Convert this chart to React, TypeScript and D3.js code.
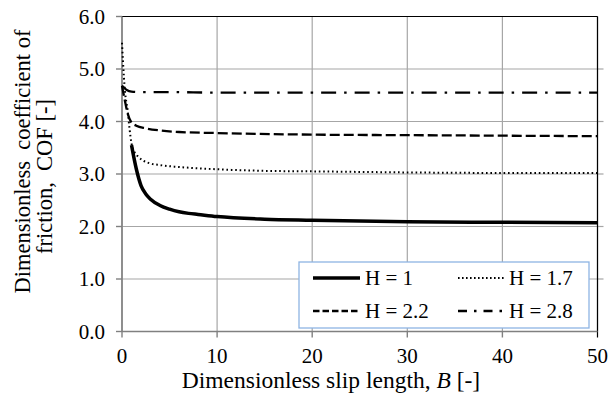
import React from "react";
import * as d3 from "d3";

const xTicks = [0, 10, 20, 30, 40, 50];
const yTicks = [0, 1, 2, 3, 4, 5, 6];

const bH1 = [1, 1.5, 2, 2.5, 3, 4, 5, 6, 7, 8, 10, 15, 20, 30, 40, 50];
const cofH1 = [3.55, 3.1, 2.78, 2.62, 2.52, 2.4, 2.33, 2.28, 2.25, 2.23, 2.19, 2.14, 2.12, 2.09, 2.08, 2.07];

const bH17 = [0, 0.1, 0.3, 0.6, 0.8, 1, 1.3, 1.7, 2.2, 3, 4, 5.5, 7, 10, 15, 20, 30, 40, 50];
const cofH17 = [5.5, 5.15, 4.6, 4.2, 3.85, 3.58, 3.42, 3.33, 3.26, 3.2, 3.17, 3.14, 3.12, 3.09, 3.06, 3.05, 3.03, 3.02, 3.02];

const bH22 = [0, 0.3, 0.6, 1, 1.5, 2.5, 4, 6, 10, 20, 30, 40, 50];
const cofH22 = [4.68, 4.4, 4.15, 3.98, 3.92, 3.87, 3.83, 3.8, 3.78, 3.75, 3.74, 3.73, 3.72];

const bH28 = [0, 0.5, 1, 2, 5, 10, 20, 30, 40, 50];
const cofH28 = [4.68, 4.6, 4.57, 4.56, 4.56, 4.55, 4.55, 4.55, 4.55, 4.55];

const seriesLabels = ["H = 1", "H = 1.7", "H = 2.2", "H = 2.8"];

const FONT = "'Liberation Serif', 'Times New Roman', serif";

export default function App() {
  const x = d3.scaleLinear().domain([0, 50]).range([122, 597.5]);
  const y = d3.scaleLinear().domain([0, 6]).range([331.5, 16.5]);

  const line = d3
    .line<[number, number]>()
    .x((d) => x(d[0]))
    .y((d) => y(d[1]))
    .curve(d3.curveMonotoneX);

  const zip = (a: number[], b: number[]) => a.map((v, i) => [v, b[i]] as [number, number]);

  const styles = [
    { w: 3.5, dash: undefined as string | undefined, cap: "butt", legDash: undefined as string | undefined },
    { w: 2, dash: "1.6 2.8", cap: "butt", legDash: "1.6 2.4" },
    { w: 2.3, dash: "10 4", cap: "butt", legDash: "6.5 3" },
    { w: 2.3, dash: "15 8 2.5 8", cap: "butt", legDash: "9 7 2.5 7" },
  ];

  const series = [
    zip(bH1, cofH1),
    zip(bH17, cofH17),
    zip(bH22, cofH22),
    zip(bH28, cofH28),
  ];

  const [x0, x1] = x.range();
  const [yb, yt] = y.range();

  const legendItems = [
    { i: 0, sx: 313, tx: 365, ty: 278 },
    { i: 1, sx: 458, tx: 509, ty: 278 },
    { i: 2, sx: 313, tx: 365, ty: 311 },
    { i: 3, sx: 458, tx: 509, ty: 311 },
  ];

  return (
    <svg
      width={610}
      height={396}
      style={{ position: "absolute", left: 0, top: 0, background: "#fff" }}
      fontFamily={FONT}
    >
      <rect x={0} y={0} width={610} height={396} fill="#fff" />
      {/* gridlines */}
      {yTicks.map((t) => (
        <line key={"gy" + t} x1={x0} x2={x1} y1={y(t)} y2={y(t)} stroke="#a6a6a6" strokeWidth={1.2} />
      ))}
      {xTicks.map((t) => (
        <line key={"gx" + t} x1={x(t)} x2={x(t)} y1={yt} y2={yb} stroke="#a6a6a6" strokeWidth={1.2} />
      ))}
      {/* right ticks */}
      {yTicks.filter((t) => t > 0 && t < 6).map((t) => (
        <line key={"ry" + t} x1={x1} x2={x1 + 6} y1={y(t)} y2={y(t)} stroke="#a6a6a6" strokeWidth={1.2} />
      ))}
      {/* top and right border */}
      <line x1={x0} x2={x1} y1={yt} y2={yt} stroke="#000" strokeWidth={1.2} />
      <line x1={x1} x2={x1} y1={yt} y2={yb + 6} stroke="#000" strokeWidth={1.2} />
      {/* axes */}
      <line x1={x0} x2={x0} y1={yt} y2={yb} stroke="#808080" strokeWidth={1.6} />
      <line x1={x0} x2={x1} y1={yb} y2={yb} stroke="#808080" strokeWidth={1.6} />
      {yTicks.map((t) => (
        <line key={"ty" + t} x1={x0 - 6} x2={x0} y1={y(t)} y2={y(t)} stroke="#808080" strokeWidth={1.4} />
      ))}
      {xTicks.slice(0, -1).map((t) => (
        <line key={"tx" + t} x1={x(t)} x2={x(t)} y1={yb} y2={yb + 6} stroke="#808080" strokeWidth={1.4} />
      ))}
      {/* tick labels */}
      {yTicks.map((t) => (
        <text key={"ly" + t} x={105} y={y(t) + 7} textAnchor="end" fontSize={21} fill="#000">
          {t.toFixed(1)}
        </text>
      ))}
      {xTicks.map((t) => (
        <text key={"lx" + t} x={x(t)} y={363} textAnchor="middle" fontSize={21} fill="#000">
          {t}
        </text>
      ))}
      {/* series */}
      {series.map((s, i) => (
        <path
          key={"s" + i}
          d={line(s) || ""}
          fill="none"
          stroke="#000"
          strokeWidth={styles[i].w}
          strokeDasharray={styles[i].dash}
          strokeLinecap={styles[i].cap as any}
        />
      ))}
      {/* legend */}
      <rect x={299} y={262} width={290} height={66} fill="#fff" stroke="#8eb4e3" strokeWidth={1.3} />
      {legendItems.map((it) => (
        <g key={"lg" + it.i}>
          <line
            x1={it.sx}
            x2={it.sx + 47}
            y1={it.ty}
            y2={it.ty}
            stroke="#000"
            strokeWidth={styles[it.i].w}
            strokeDasharray={styles[it.i].legDash}
          />
          <text x={it.tx} y={it.ty + 7} fontSize={21} fill="#000" style={{ whiteSpace: "pre" }}>
            {seriesLabels[it.i]}
          </text>
        </g>
      ))}
      {/* axis titles */}
      <text x={331} y={388} textAnchor="middle" fontSize={23.5} fill="#000" style={{ whiteSpace: "pre" }}>
        <tspan>Dimensionless slip length, </tspan>
        <tspan fontStyle="italic">B</tspan>
        <tspan> [-]</tspan>
      </text>
      <text
        transform="translate(30,161.5) rotate(-90)"
        textAnchor="middle"
        fontSize={22.5}
        fill="#000"
        style={{ whiteSpace: "pre" }}
      >
        Dimensionless  coefficient of
      </text>
      <text
        transform="translate(52,176.5) rotate(-90)"
        textAnchor="middle"
        fontSize={22.5}
        fill="#000"
        style={{ whiteSpace: "pre" }}
      >
        friction,  COF [-]
      </text>
    </svg>
  );
}
